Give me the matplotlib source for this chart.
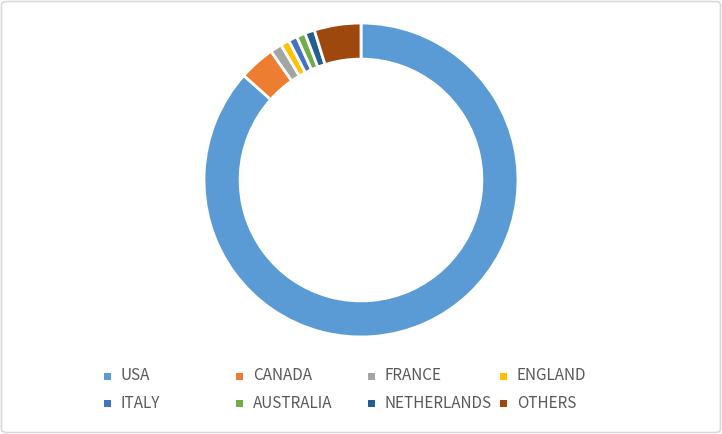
import matplotlib.pyplot as plt
from matplotlib.patches import Rectangle, FancyBboxPatch

plt.rcParams['font.family'] = ['Noto Sans CJK KR', 'DejaVu Sans']

countries = ['USA', 'CANADA', 'FRANCE', 'ENGLAND', 'ITALY', 'AUSTRALIA', 'NETHERLANDS', 'OTHERS']
shares = [86.5, 3.7, 1.2, 0.9, 0.9, 0.9, 1.0, 4.8]
colors = ['#5B9BD5', '#ED7D31', '#A5A5A5', '#FFC000', '#4472C4', '#70AD47', '#255E91', '#9E480E']

W, H = 722, 434
fig = plt.figure(figsize=(W / 100, H / 100), dpi=100)

# outer frame
fig.patches.append(FancyBboxPatch((1.5 / W, 1.5 / H), (W - 3) / W, (H - 3) / H,
                                  boxstyle='round,pad=0,rounding_size=0.008',
                                  transform=fig.transFigure, facecolor='none',
                                  edgecolor='#D9D9D9', linewidth=1.2, zorder=5))

# donut
cx, cy, r = 361, 180, 157
ax = fig.add_axes([(cx - r) / W, (H - cy - r) / H, 2 * r / W, 2 * r / H])
ax.pie(shares, colors=colors, startangle=90, counterclock=False, radius=1,
       wedgeprops=dict(width=0.23, edgecolor='white', linewidth=2))
ax.set_xlim(-1, 1)
ax.set_ylim(-1, 1)
ax.set_aspect('equal')
ax.axis('off')

# legend, 4 columns x 2 rows
x0, dx = 107, 132
rows_y = [376, 403]
sq = 7
for i, (lab, col) in enumerate(zip(countries, colors)):
    row, c = divmod(i, 4)
    x = x0 + c * dx
    y = rows_y[row]
    fig.patches.append(Rectangle(((x - sq / 2) / W, (H - y - sq / 2) / H), sq / W, sq / H,
                                 transform=fig.transFigure, facecolor=col, edgecolor='none'))
    fig.text((x + 14) / W, (H - y) / H, lab, fontsize=11, color='#595959',
             va='center', ha='left')

fig.savefig('out.png', dpi=100)
